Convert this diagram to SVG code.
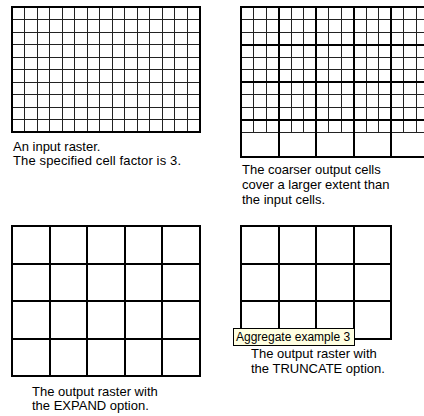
<svg xmlns="http://www.w3.org/2000/svg" width="424" height="416" viewBox="0 0 424 416">
  <style>
    .fine { fill: none; stroke: #222; stroke-width: 1; shape-rendering: crispEdges; }
    .thick { fill: none; stroke: #000; stroke-width: 2; shape-rendering: crispEdges; }
    .lbl { font-family: "Liberation Sans", Arial, sans-serif; font-size: 13px; fill: #000; }
    .tip { fill: #FFFFE1; stroke: #000; stroke-width: 1; shape-rendering: crispEdges; }
    .tiptext { font-family: "Liberation Sans", Arial, sans-serif; font-size: 12px; fill: #000; }
  </style>
  <rect width="424" height="416" fill="#fff"/>

  <g id="input-raster">
    <path class="fine" d="M24.5 7V132 M37 7V132 M49.5 7V132 M62 7V132 M74.5 7V132 M87 7V132 M99.5 7V132 M112 7V132 M124.5 7V132 M137 7V132 M149.5 7V132 M162 7V132 M174.5 7V132 M187 7V132
      M12 19.5H199.5 M12 32H199.5 M12 44.5H199.5 M12 57H199.5 M12 69.5H199.5 M12 82H199.5 M12 94.5H199.5 M12 107H199.5 M12 119.5H199.5"/>
    <rect class="thick" x="12" y="7" width="187.5" height="125"/>
    <text class="lbl" x="13" y="151">An input raster.</text>
    <text class="lbl" x="13" y="165" textLength="168">The specified cell factor is 3.</text>
  </g>

  <g id="coarse-overlay">
    <path class="fine" d="M253.5 7V132 M266 7V132 M291 7V132 M303.5 7V132 M328.5 7V132 M341 7V132 M366 7V132 M378.5 7V132 M403.5 7V132 M416 7V132
      M241 19.5H424 M241 32H424 M241 57H424 M241 69.5H424 M241 94.5H424 M241 107H424 M241 132H424"/>
    <path class="thick" d="M241 7V157 M278.5 7V157 M316 7V157 M353.5 7V157 M391 7V157
      M240 7H424 M241 44.5H424 M241 82H424 M241 119.5H424 M240 157H424"/>
    <text class="lbl" x="242" y="174">The coarser output cells</text>
    <text class="lbl" x="242" y="189">cover a larger extent than</text>
    <text class="lbl" x="242" y="204">the input cells.</text>
  </g>

  <g id="expand-output">
    <path class="thick" d="M49.5 226V376 M87 226V376 M124.5 226V376 M162 226V376
      M12 263.5H199.5 M12 301H199.5 M12 338.5H199.5"/>
    <rect class="thick" x="12" y="226" width="187.5" height="150"/>
    <text class="lbl" x="32" y="396">The output raster with</text>
    <text class="lbl" x="32" y="410">the EXPAND option.</text>
  </g>

  <g id="truncate-output">
    <path class="thick" d="M278.5 226V338.5 M316 226V338.5 M353.5 226V338.5
      M241 263.5H391 M241 301H391"/>
    <rect class="thick" x="241" y="226" width="150" height="112.5"/>
    <text class="lbl" x="251" y="358">The output raster with</text>
    <text class="lbl" x="251" y="373">the TRUNCATE option.</text>
  </g>

  <g id="tooltip">
    <rect class="tip" x="233.5" y="328.5" width="121" height="17"/>
    <text class="tiptext" x="236" y="341">Aggregate example 3</text>
  </g>

  <g id="connectors"/>
</svg>
